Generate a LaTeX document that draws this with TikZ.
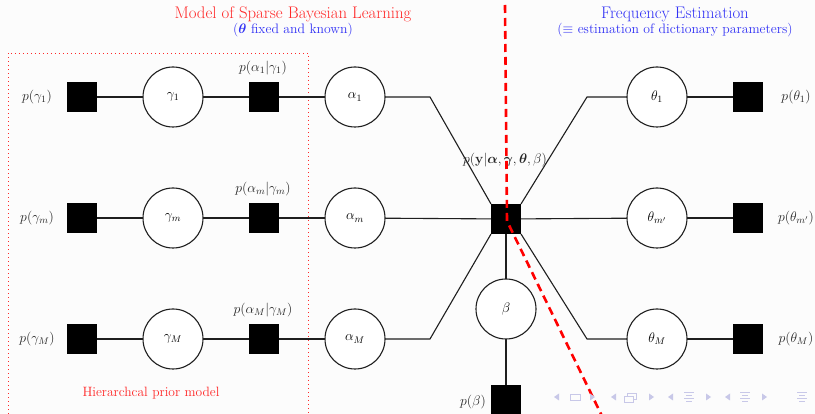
\documentclass[tikz,border=0pt]{standalone}
\usepackage{fix-cm}
\usepackage{amsmath,amssymb,bm}
\begin{document}
\begin{tikzpicture}[x=1pt,y=-1pt,
  every node/.style={inner sep=0pt,outer sep=0pt},
  varnode/.style={circle,draw=black!88,line width=1.1pt,minimum size=60pt,fill=white,font=\fontsize{13.8}{16}\selectfont},
  factor/.style={rectangle,fill=black,minimum size=30pt},
  lbl/.style={text=black!85,font=\fontsize{13.8}{16}\selectfont},
  edge/.style={draw=black!88,line width=1.1pt},
  navc/.style={fill=navcol,draw=none},
  navl/.style={draw=navcol,line width=0.9pt}]
\definecolor{bgcol}{RGB}{252,252,252}
\definecolor{titlered}{RGB}{255,40,40}
\definecolor{titleblue}{RGB}{50,50,245}
\definecolor{navcol}{RGB}{200,200,232}

% canvas
\fill[bgcol] (0,0) rectangle (815,414);
\useasboundingbox (0,0) rectangle (815,414);

% headings
\node[text=titlered,font=\fontsize{16.8}{19}\selectfont] (ht1) at (293,14) {Model of Sparse Bayesian Learning};
\node[text=titleblue,font=\fontsize{13.7}{16}\selectfont] (hs1) at (293,30) {($\bm{\theta}$ fixed and known)};
\node[text=titleblue,font=\fontsize{16.8}{19}\selectfont] (ht2) at (675,14) {Frequency Estimation};
\node[text=titleblue,font=\fontsize{13.7}{16}\selectfont] (hs2) at (675,30) {($\equiv$ estimation of dictionary parameters)};

% hierarchical prior box
\draw[titlered,line width=0.8pt,dash pattern=on 0.9pt off 3.1pt] (8,430) -- (8,53) -- (308,53) -- (308,430);
\node[text=titlered,font=\fontsize{13.5}{16}\selectfont] (hpm) at (151,393) {Hierarchcal prior model};

% rows of the prior model
\foreach \r/\y/\s in {1/97/1, m/218/m, M/339/M}{
  \node[factor] (pg\r) at (82,\y) {};
  \node[lbl] (lpg\r) at (37,\y) {$p(\gamma_{\s})$};
  \node[varnode] (g\r) at (173,\y) {$\gamma_{\s}$};
  \node[factor] (pa\r) at (264,\y) {};
  \node[lbl,anchor=south] (lpa\r) at (263,\y-22) {$p(\alpha_{\s}|\gamma_{\s})$};
  \node[varnode] (a\r) at (355,\y) {$\alpha_{\s}$};
  \draw[edge] (pg\r) -- (g\r) -- (pa\r) -- (a\r);
}

% likelihood factor
\node[factor] (fy) at (506,219) {};
\node[lbl] (lfy) at (505,160) {$p(\mathbf{y}|\bm{\alpha},\bm{\gamma},\bm{\theta},\beta)$};
\coordinate (ba1) at (430,97);
\coordinate (baM) at (430,339);
\draw[edge] (a1) -- (ba1) -- (fy.north west);
\draw[edge] (am) -- (fy);
\draw[edge] (aM) -- (baM) -- (fy.south west);

% noise precision
\node[varnode] (be) at (506,309) {$\beta$};
\node[factor] (pb) at (506,400) {};
\node[lbl] (lpb) at (473,402) {$p(\beta)$};
\draw[edge] (fy) -- (be) -- (pb);

% dictionary parameters
\foreach \r/\y/\s in {1/97/1, m/218/{m'}, M/339/M}{
  \node[varnode] (t\r) at (657,\y) {$\theta_{\s}$};
  \node[factor] (pt\r) at (748,\y) {};
  \node[lbl] (lpt\r) at (796,\y) {$p(\theta_{\s})$};
  \draw[edge] (t\r) -- (pt\r);
}
\coordinate (bt1) at (587,97);
\coordinate (btM) at (587,339);
\draw[edge] (t1) -- (bt1) -- (fy.north east);
\draw[edge] (tm) -- (fy);
\draw[edge] (tM) -- (btM) -- (fy.south east);

% split between the two subproblems
\coordinate (sp0) at (505,5);
\coordinate (sp1) at (507,221);
\coordinate (sp2) at (602,416);
\draw[red,line width=2.6pt,dash pattern=on 8pt off 5pt] (sp0) -- (sp1) -- (sp2);

% navigation symbols
\begin{scope}[shift={(0,397)}]
  \foreach \x in {557,614,671,728}{\fill[navc] (\x-3,0) -- (\x+2,-3.5) -- (\x+2,3.5) -- cycle;}
  \foreach \x in {592,651,708,764}{\fill[navc] (\x+3,0) -- (\x-2,-3.5) -- (\x-2,3.5) -- cycle;}
  \draw[navl] (570,-3) rectangle (580,3);
  \draw[navl] (624,-1) rectangle (633,5);
  \draw[navl] (627,-1) -- (627,-4) -- (636,-4) -- (636,2) -- (633,2);
  \foreach \x in {689,745,802}{
    \draw[navl,line width=0.8pt] (\x-5,-5) -- (\x+5,-5) (\x-3,-2) -- (\x+3,-2) (\x-5,1) -- (\x+5,1) (\x-3,4) -- (\x+3,4);
  }
\end{scope}
\end{tikzpicture}
\end{document}
